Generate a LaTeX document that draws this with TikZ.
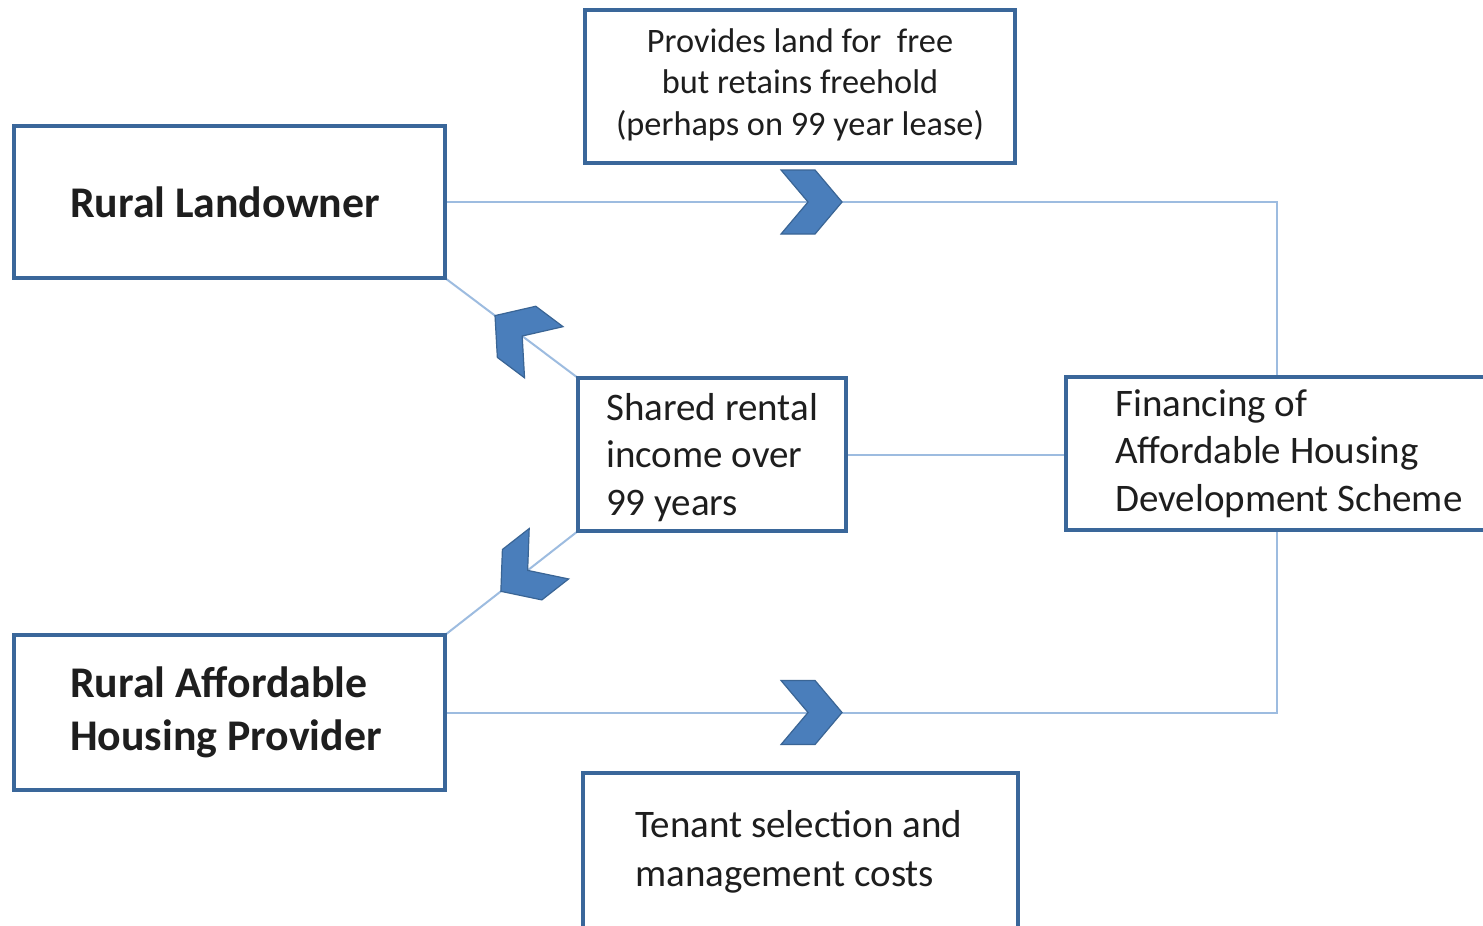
\documentclass[tikz,border=0pt]{standalone}
\usepackage{fontspec}
\setmainfont{Carlito}
\usetikzlibrary{backgrounds}
\definecolor{boxblue}{HTML}{3A679A}
\definecolor{linkblue}{HTML}{9DBCE0}
\definecolor{chevfill}{HTML}{4A7EBB}
\definecolor{chevedge}{HTML}{3A6595}
\definecolor{txtcol}{HTML}{1E1E1E}
\tikzset{
  box/.style={draw=boxblue, line width=3.5pt, fill=white, rectangle, inner sep=0pt, outer sep=0pt},
  conn/.style={draw=linkblue, line width=2pt},
  lbl/.style={inner sep=0pt, text=txtcol, align=left},
  boldlbl/.style={lbl, font=\bfseries\fontsize{43.8}{53}\selectfont},
  midlbl/.style={lbl, font=\fontsize{39}{47.5}\selectfont},
  chev/.pic={\filldraw[fill=chevfill, draw=chevedge, line width=1.2pt, line join=miter]
     (-61,32) -- (-27,32) -- (0,0) -- (-27,-32) -- (-61,-32) -- (-34,0) -- cycle;}
}
\begin{document}
\begin{tikzpicture}[x=1pt,y=-1pt]
\useasboundingbox (0,0) rectangle (1483,926);
\clip (0,0) rectangle (1483,926);
% boxes
\node[box, minimum width=431pt, minimum height=152pt] (RL) at (229.5,202) {};
\node[box, minimum width=430pt, minimum height=153pt] (PRO) at (800,86.5) {};
\node[box, minimum width=268pt, minimum height=153pt] (SR) at (712,454.5) {};
\node[box, minimum width=422pt, minimum height=153pt] (FIN) at (1277,453.5) {};
\node[box, minimum width=431pt, minimum height=155pt] (RAHP) at (229.5,712.5) {};
\node[box, minimum width=435pt, minimum height=157pt] (TEN) at (800.5,851.5) {};
% texts
\node[boldlbl, anchor=west] (RLt) at ([xshift=56pt]RL.west) {Rural Landowner};
\node[boldlbl, anchor=west] (RAHPt) at ([xshift=56pt]RAHP.west) {Rural Affordable\\Housing Provider};
\node[lbl, align=center, font=\fontsize{34.3}{41.5}\selectfont] (PROt) at ([yshift=2pt]PRO.center)
  {Provides land for\ \ free\\but retains freehold\\(perhaps on 99 year lease)};
\node[midlbl, anchor=west] (SRt) at ([xshift=28pt,yshift=-3pt]SR.west) {Shared rental\\income over\\99 years};
\node[midlbl, anchor=west] (FINt) at ([xshift=49pt]FIN.west) {Financing of\\Affordable Housing\\Development Scheme};
\node[lbl, anchor=west, font=\fontsize{39}{49}\selectfont] (TENt) at ([xshift=52pt]TEN.west) {Tenant selection and\\management costs};
% connectors
\begin{pgfonlayer}{background}
\fill[white] (0,0) rectangle (1483,926);
\draw[conn] (RL.east) -| (FIN.north) pic[pos=0.2386, sloped]{chev};
\draw[conn] (RAHP.east) -| (FIN.south) pic[pos=0.2386, sloped]{chev};
\draw[conn] (SR.east) -- (SR.east -| FIN.west);
\draw[conn] (SR.north west) -- (RL.south east) pic[pos=0.624, sloped, allow upside down]{chev};
\draw[conn] (SR.south west) -- (RAHP.north east) pic[pos=0.58, sloped, allow upside down]{chev};
\end{pgfonlayer}
\end{tikzpicture}
\end{document}
